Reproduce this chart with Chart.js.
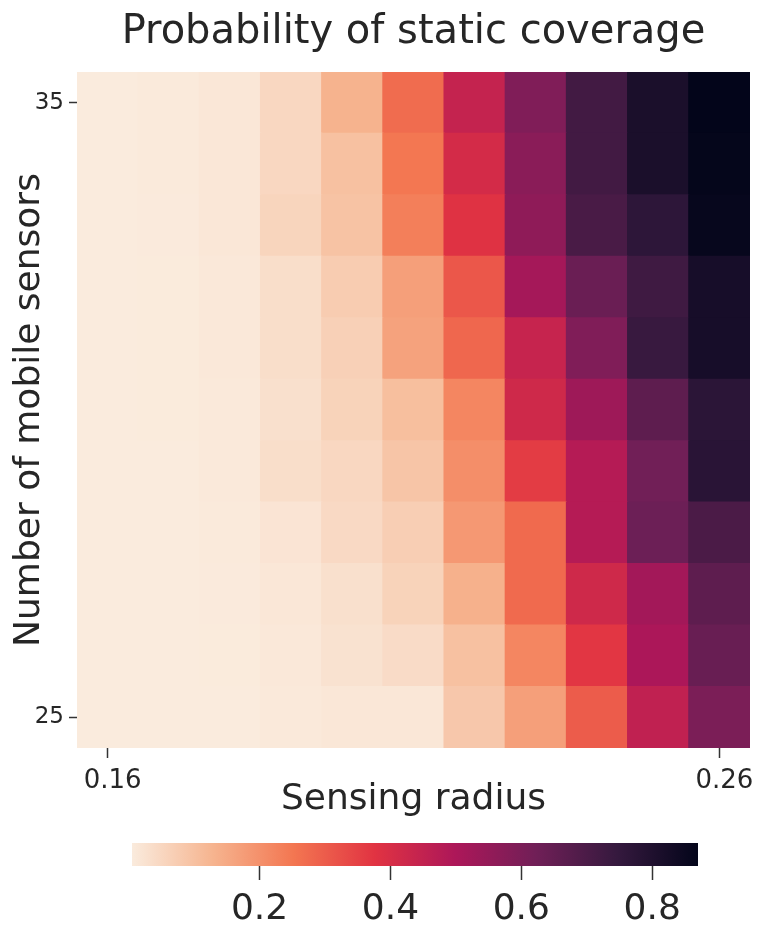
<!DOCTYPE html>
<html lang="en">
<head>
<meta charset="UTF-8">
<title>Probability of static coverage</title>
<script src="https://cdn.jsdelivr.net/npm/chart.js"></script>
<style>
  body { margin: 0; background: #fff; }
  canvas { display: block; }
</style>
</head>
<body>
<canvas id="heat" width="760" height="829"></canvas>
<canvas id="cbar" width="760" height="100"></canvas>
<script>
// sensing radius (columns) and number of mobile sensors (rows)
const radii = ['0.16', '0.17', '0.18', '0.19', '0.20', '0.21', '0.22', '0.23', '0.24', '0.25', '0.26'];
const sensors = [25, 26, 27, 28, 29, 30, 31, 32, 33, 34, 35];

// coverage probability, one value per radius
const cov25 = [0.005, 0.005, 0.005, 0.010, 0.015, 0.015, 0.085, 0.170, 0.300, 0.455, 0.600];
const cov26 = [0.005, 0.005, 0.006, 0.012, 0.025, 0.040, 0.100, 0.220, 0.370, 0.500, 0.640];
const cov27 = [0.005, 0.005, 0.007, 0.015, 0.030, 0.060, 0.135, 0.275, 0.420, 0.520, 0.660];
const cov28 = [0.005, 0.005, 0.008, 0.020, 0.045, 0.070, 0.185, 0.275, 0.480, 0.630, 0.700];
const cov29 = [0.005, 0.005, 0.010, 0.035, 0.050, 0.090, 0.205, 0.360, 0.480, 0.620, 0.775];
const cov30 = [0.005, 0.006, 0.010, 0.030, 0.060, 0.105, 0.220, 0.420, 0.530, 0.660, 0.770];
const cov31 = [0.005, 0.006, 0.012, 0.035, 0.065, 0.165, 0.280, 0.440, 0.590, 0.740, 0.820];
const cov32 = [0.005, 0.006, 0.012, 0.035, 0.075, 0.170, 0.310, 0.515, 0.635, 0.725, 0.820];
const cov33 = [0.005, 0.007, 0.015, 0.055, 0.095, 0.235, 0.380, 0.560, 0.705, 0.765, 0.860];
const cov34 = [0.005, 0.008, 0.015, 0.050, 0.100, 0.250, 0.410, 0.570, 0.720, 0.810, 0.865];
const cov35 = [0.005, 0.008, 0.015, 0.050, 0.130, 0.270, 0.445, 0.590, 0.720, 0.810, 0.870];
const coverage = [cov25, cov26, cov27, cov28, cov29, cov30, cov31, cov32, cov33, cov34, cov35];

// colour scale range and colorbar ticks
const vmin = 0.005;
const vmax = 0.87;
const cbarTicks = [0.2, 0.4, 0.6, 0.8];

const FONT = 'DejaVu Sans';
const TEXT = '#262626';

// reversed "rocket" palette: light for low values, dark for high
const cmapStops = [
  [0.000, '#faebdd'],
  [0.143, '#f6b48f'],
  [0.286, '#f37651'],
  [0.429, '#e13342'],
  [0.571, '#ad1759'],
  [0.714, '#701f57'],
  [0.857, '#35193e'],
  [1.000, '#03051a']
];

function hexToRgb(h) {
  return [1, 3, 5].map(i => parseInt(h.slice(i, i + 2), 16));
}

function colorFor(v) {
  let t = (v - vmin) / (vmax - vmin);
  t = Math.max(0, Math.min(1, t));
  for (let i = 1; i < cmapStops.length; i++) {
    const [t1, c1] = cmapStops[i];
    if (t <= t1) {
      const [t0, c0] = cmapStops[i - 1];
      const f = (t - t0) / (t1 - t0);
      const a = hexToRgb(c0), b = hexToRgb(c1);
      const rgb = a.map((x, k) => Math.round(x + (b[k] - x) * f));
      return `rgb(${rgb.join(',')})`;
    }
  }
  return cmapStops[cmapStops.length - 1][1];
}

// one floating-bar dataset per row of the heatmap
const datasets = sensors.map((n, i) => ({
  data: radii.map(() => [n - 0.5, n + 0.5]),
  backgroundColor: coverage[i].map(colorFor),
  grouped: false,
  barPercentage: 1,
  categoryPercentage: 1,
  borderWidth: 0,
  inflateAmount: 0.6
}));

new Chart(document.getElementById('heat'), {
  type: 'bar',
  data: { labels: radii, datasets },
  options: {
    responsive: false,
    animation: false,
    devicePixelRatio: 1,
    layout: { padding: { right: 10 } },
    plugins: {
      legend: { display: false },
      tooltip: { enabled: false },
      title: {
        display: true,
        text: 'Probability of static coverage',
        fullSize: false,
        color: TEXT,
        font: { family: FONT, size: 40, weight: 'normal' },
        padding: { top: 9, bottom: 15 }
      }
    },
    scales: {
      x: {
        offset: true,
        grid: {
          offset: false,
          drawOnChartArea: false,
          tickLength: 10,
          tickWidth: 1.5,
          tickColor: ctx => (ctx.index === 0 || ctx.index === radii.length - 1) ? '#333' : 'rgba(0,0,0,0)'
        },
        border: { display: false },
        ticks: {
          autoSkip: false,
          maxRotation: 0,
          padding: 8,
          labelOffset: 5,
          color: TEXT,
          font: { family: FONT, size: 26 },
          callback: (v, i) => (i === 0 || i === radii.length - 1) ? radii[i] : ''
        },
        title: {
          display: true,
          text: 'Sensing radius',
          color: TEXT,
          font: { family: FONT, size: 36 },
          padding: { top: 0, bottom: 8 }
        },
        afterFit: s => { s.height = 81; }
      },
      y: {
        type: 'linear',
        min: 24.5,
        max: 35.5,
        afterBuildTicks: s => { s.ticks = [25, 35].map(v => ({ value: v })); },
        grid: { drawOnChartArea: false, tickLength: 8, tickWidth: 1.5, tickColor: '#333' },
        border: { display: false },
        ticks: { padding: 5, color: TEXT, font: { family: FONT, size: 23 } },
        title: {
          display: true,
          text: 'Number of mobile sensors',
          color: TEXT,
          font: { family: FONT, size: 36 },
          padding: { top: 8, bottom: 0 }
        },
        afterFit: s => { s.width = 77; }
      }
    }
  }
});

// colorbar: a single floating bar spanning the colour range, filled with the palette
new Chart(document.getElementById('cbar'), {
  type: 'bar',
  data: {
    labels: [''],
    datasets: [{
      data: [[vmin, vmax]],
      backgroundColor: ctx => {
        const area = ctx.chart.chartArea;
        if (!area) return cmapStops[0][1];
        const g = ctx.chart.ctx.createLinearGradient(area.left, 0, area.right, 0);
        cmapStops.forEach(([t, c]) => g.addColorStop(t, c));
        return g;
      },
      barPercentage: 1,
      categoryPercentage: 1,
      borderWidth: 0
    }]
  },
  options: {
    indexAxis: 'y',
    responsive: false,
    animation: false,
    devicePixelRatio: 1,
    layout: { padding: { left: 132, right: 62, top: 14 } },
    plugins: { legend: { display: false }, tooltip: { enabled: false } },
    scales: {
      x: {
        type: 'linear',
        min: vmin,
        max: vmax,
        afterBuildTicks: s => { s.ticks = cbarTicks.map(v => ({ value: v })); },
        grid: { drawOnChartArea: false, tickLength: 14, tickWidth: 1.5, tickColor: '#333' },
        border: { display: false },
        ticks: {
          padding: 8,
          color: TEXT,
          font: { family: FONT, size: 36 },
          callback: v => v.toFixed(1)
        },
        afterFit: s => { s.height = 63; }
      },
      y: { display: false }
    }
  }
});
</script>
</body>
</html>
